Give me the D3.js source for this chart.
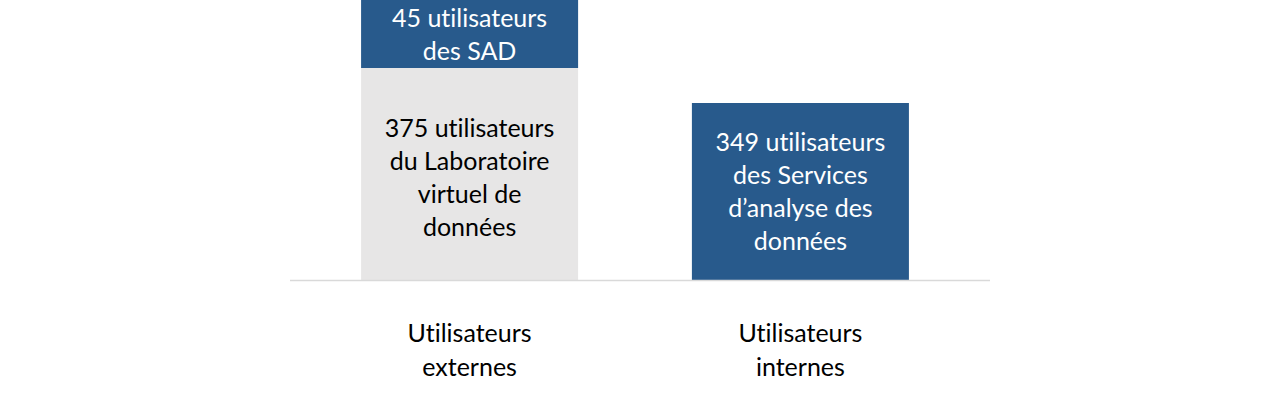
<!DOCTYPE html>
<html>
<head>
<meta charset="utf-8">
<script src="https://cdn.jsdelivr.net/npm/d3@7"></script>
<style>
  body { margin: 0; background: #ffffff; }
  text { font-variant-ligatures: none; font-feature-settings: "liga" 0; }
</style>
</head>
<body>
<div id="chart"></div>
<script>
// categories and stacked series
var categories = ["Utilisateurs externes", "Utilisateurs internes"];
var categoryLines = [["Utilisateurs", "externes"], ["Utilisateurs", "internes"]];
var labVirtuel = [375, 0];
var sadExternes = [45, 0];
var sadInternes = [0, 349];
var labLines = [["375 utilisateurs", "du Laboratoire", "virtuel de", "données"], []];
var sadExtLines = [["45 utilisateurs", "des SAD"], []];
var sadIntLines = [[], ["349 utilisateurs", "des Services", "d\u2019analyse des", "données"]];

var width = 1287, height = 400;
var blue = "#285a8c", gray = "#e7e6e6", axisC = "#d9d9d9";
var font = "Lato, 'Open Sans', sans-serif", fontSize = "25px";

var svg = d3.select("#chart")
    .append("svg")
    .attr("width", width)
    .attr("height", height);

var x = d3.scaleBand()
    .domain(categories)
    .range([285, 985])
    .paddingInner(0.344)
    .paddingOuter(0.23);

// the original figure is schematic, bars are not drawn to a linear scale
var y = d3.scaleLinear()
    .domain([0, 349, 375, 420])
    .range([280.5, 103, 68, 0]);

var series = [
    { key: "lab", values: labVirtuel, fill: gray, text: "#000000", lines: labLines },
    { key: "sadExt", values: sadExternes, fill: blue, text: "#ffffff", lines: sadExtLines },
    { key: "sadInt", values: sadInternes, fill: blue, text: "#ffffff", lines: sadIntLines }
];

var base = categories.map(function () { return 0; });
series.forEach(function (s) {
    categories.forEach(function (c, i) {
        var v = s.values[i];
        if (v === 0) return;
        var y0 = base[i], y1 = base[i] + v;
        base[i] = y1;
        svg.append("rect")
            .attr("x", x(c))
            .attr("y", y(y1))
            .attr("width", x.bandwidth())
            .attr("height", y(y0) - y(y1))
            .attr("fill", s.fill);
        var lines = s.lines[i];
        var mid = (y(y0) + y(y1)) / 2;
        if (s.key === "lab") mid += 3;
        if (s.key === "sadExt") mid += 1;
        var lh = 33;
        lines.forEach(function (t, k) {
            svg.append("text")
                .attr("x", x(c) + x.bandwidth() / 2)
                .attr("y", mid + (k - (lines.length - 1) / 2) * lh)
                .attr("dy", "0.35em")
                .attr("text-anchor", "middle")
                .attr("font-family", font)
                .attr("font-size", fontSize)
                .attr("fill", s.text)
                .text(t);
        });
    });
});

svg.append("line")
    .attr("x1", 290)
    .attr("x2", 990)
    .attr("y1", 280.5)
    .attr("y2", 280.5)
    .attr("stroke", axisC)
    .attr("stroke-width", 1.5);

categories.forEach(function (c, i) {
    categoryLines[i].forEach(function (t, k) {
        svg.append("text")
            .attr("x", x(c) + x.bandwidth() / 2)
            .attr("y", 333 + k * 34)
            .attr("dy", "0.35em")
            .attr("text-anchor", "middle")
            .attr("font-family", font)
            .attr("font-size", fontSize)
            .attr("fill", "#000000")
            .text(t);
    });
});
</script>
</body>
</html>
